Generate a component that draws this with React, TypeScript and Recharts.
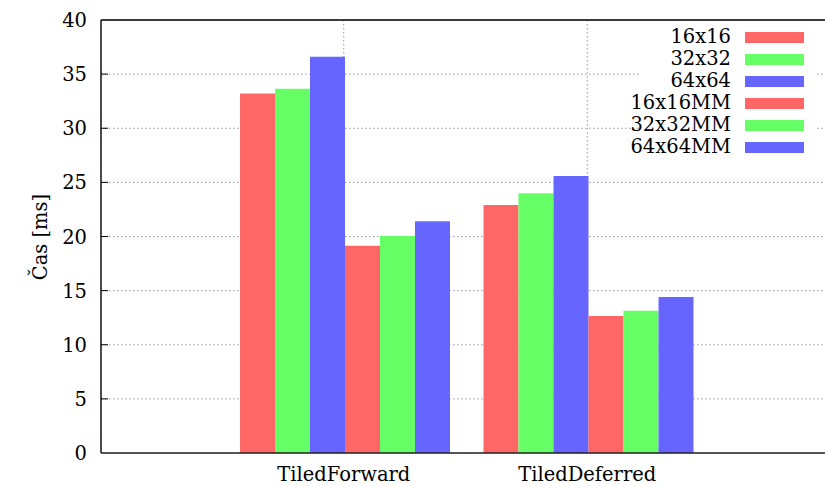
import React from 'react';
import { BarChart, Bar, XAxis, YAxis, CartesianGrid, ReferenceLine } from 'recharts';

const categories = ['TiledForward', 'TiledDeferred'];
const seriesNames = ['16x16', '32x32', '64x64', '16x16MM', '32x32MM', '64x64MM'];
const seriesColors = ['#ff6666', '#66ff66', '#6666ff', '#ff6666', '#66ff66', '#6666ff'];
const v16 = [33.2, 22.9];
const v32 = [33.65, 24.0];
const v64 = [36.6, 25.6];
const v16MM = [19.15, 12.65];
const v32MM = [20.05, 13.15];
const v64MM = [21.4, 14.4];
const yTicks = [0, 5, 10, 15, 20, 25, 30, 35, 40];

const seriesValues = [v16, v32, v64, v16MM, v32MM, v64MM];
const data = categories.map((c, i) => {
  const row: any = { name: c };
  seriesNames.forEach((s, k) => { row[s] = seriesValues[k][i]; });
  return row;
});

const FONT = 'DejaVu Serif';
const FS = 19.5;

const YTick = (props: any) => {
  const { x, y, payload } = props;
  return (
    <g>
      <text x={x} y={y} dy="0.36em" textAnchor="end" fontSize={FS} style={{ fontFamily: FONT }} fill="#000">{payload.value}</text>
      {payload.value > 0 && payload.value < 40 ? (
        <line x1={x + 14} x2={x + 21} y1={y} y2={y} stroke="#000" strokeWidth={1} />
      ) : null}
    </g>
  );
};

const XTick = (props: any) => {
  const { x, y, payload } = props;
  return (
    <text x={x} y={y} dy={14} textAnchor="middle" fontSize={FS} style={{ fontFamily: FONT }} fill="#000">{payload.value}</text>
  );
};

const YLabel = () => (
  <text x={40} y={237} transform="rotate(-90 40 237)" textAnchor="middle" dominantBaseline="central" fontSize={FS} style={{ fontFamily: FONT }} fill="#000">Čas [ms]</text>
);

export default function App() {
  return (
    <div style={{ position: 'absolute', left: 0, top: 0, width: 825, height: 486, overflow: 'hidden', background: '#fff' }}>
      <BarChart width={840} height={486} data={data} margin={{ top: 20, right: 9, bottom: 0, left: 0 }} barGap={0} barCategoryGap={18}>
        <CartesianGrid stroke="#999" strokeDasharray="1.5 2.5" />
        <XAxis dataKey="name" type="category" height={33} padding={{ left: 121, right: 122 }} tick={<XTick />} tickSize={0} tickMargin={14} axisLine={{ stroke: '#222', strokeWidth: 1.6 }} tickLine={false} />
        <YAxis width={101} domain={[0, 40]} ticks={yTicks} tick={<YTick />} tickSize={0} tickMargin={14} tickLine={false} axisLine={{ stroke: '#222', strokeWidth: 1.6 }} label={<YLabel />} interval={0} />
        <ReferenceLine y={40} stroke="#000" strokeWidth={1.6} />
        {seriesNames.map((s, k) => (
          <Bar key={s} dataKey={s} fill={seriesColors[k]} isAnimationActive={false} />
        ))}
      </BarChart>
      <div style={{ position: 'absolute', left: 639, top: 26, width: 178, height: 132, background: '#fff' }}>
        {seriesNames.map((s, k) => (
          <div key={s} style={{ position: 'absolute', left: 0, top: k * 21.9, height: 22, width: 178 }}>
            <span style={{ position: 'absolute', right: 178 - 92, top: 0, lineHeight: '22px', fontSize: FS, fontFamily: FONT, whiteSpace: 'nowrap' }}>{s}</span>
            <span style={{ position: 'absolute', left: 106, top: 6, width: 59, height: 11, background: seriesColors[k] }} />
          </div>
        ))}
      </div>
    </div>
  );
}
